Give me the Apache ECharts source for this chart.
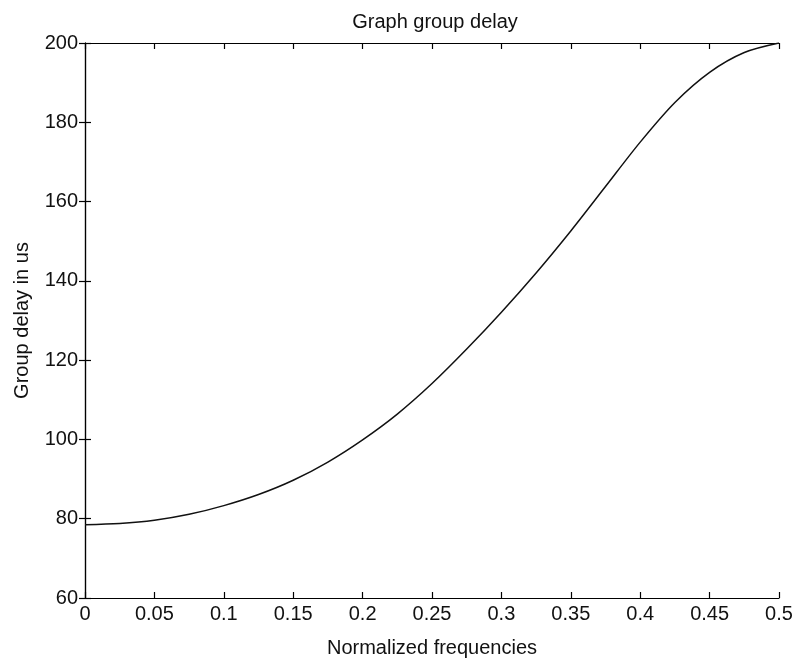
<!DOCTYPE html>
<html>
<head>
<meta charset="utf-8">
<title>Graph group delay</title>
<script src="https://cdn.jsdelivr.net/npm/echarts@6/dist/echarts.min.js"></script>
<style>
  html, body { margin: 0; padding: 0; background: #fff; }
  #chart { width: 796px; height: 663px; }
</style>
</head>
<body>
<div id="chart"></div>
<script>
// Normalized frequency samples and the group delay (us) at each of them
const freqs = [0, 0.025, 0.05, 0.075, 0.1, 0.125, 0.15, 0.175, 0.2, 0.225, 0.25,
               0.275, 0.3, 0.325, 0.35, 0.375, 0.4, 0.425, 0.45, 0.475, 0.5];
const delays = [78.5, 78.8, 79.6, 81.1, 83.3, 86.1, 89.7, 94.3, 99.9, 106.4, 114.1,
                122.8, 132.1, 142.0, 152.6, 163.8, 175.0, 185.0, 192.6, 197.6, 200];

const xTicks = { min: 0, max: 0.5, step: 0.05 };
const yTicks = { min: 60, max: 200, step: 20 };

const FONT = "'Liberation Sans', Arial, sans-serif";

const chart = echarts.init(document.getElementById('chart'), null, { renderer: 'canvas' });

const fmtX = v => String(Math.round(v * 100) / 100);

const baseAxisLine = { show: true, lineStyle: { color: '#000', width: 1.2 } };
const baseTick = { show: true, inside: true, length: 6, lineStyle: { color: '#000', width: 1.2 } };

chart.setOption({
  animation: false,
  backgroundColor: '#fff',
  title: {
    text: 'Graph group delay',
    left: 430, top: 7, textAlign: 'center',
    textStyle: { fontFamily: FONT, fontSize: 20, fontWeight: 'normal', color: '#111' }
  },
  grid: { left: 85, right: 17, top: 43, bottom: 61, containLabel: false },
  xAxis: [
    {
      type: 'value', position: 'bottom',
      min: xTicks.min, max: xTicks.max, interval: xTicks.step,
      name: 'Normalized frequencies', nameLocation: 'middle', nameGap: 40,
      nameTextStyle: { fontFamily: FONT, fontSize: 20, color: '#111' },
      axisLine: baseAxisLine, axisTick: baseTick,
      axisLabel: { fontFamily: FONT, fontSize: 20, color: '#111', margin: 6, formatter: fmtX },
      splitLine: { show: false }
    },
    {
      type: 'value', position: 'top',
      min: xTicks.min, max: xTicks.max, interval: xTicks.step,
      axisLine: baseAxisLine, axisTick: baseTick,
      axisLabel: { show: false }, splitLine: { show: false }
    }
  ],
  yAxis: [
    {
      type: 'value', position: 'left',
      min: yTicks.min, max: yTicks.max, interval: yTicks.step,
      name: 'Group delay in us', nameLocation: 'middle', nameGap: 53, nameRotate: 90,
      nameTextStyle: { fontFamily: FONT, fontSize: 20, color: '#111' },
      axisLine: baseAxisLine, axisTick: baseTick,
      axisLabel: { fontFamily: FONT, fontSize: 20, color: '#111', margin: 7 },
      splitLine: { show: false }
    },
    {
      type: 'value', position: 'right',
      min: yTicks.min, max: yTicks.max, interval: yTicks.step,
      axisLine: baseAxisLine, axisTick: baseTick,
      axisLabel: { show: false }, splitLine: { show: false }
    }
  ],
  series: [{
    type: 'line',
    data: freqs.map((f, i) => [f, delays[i]]),
    smooth: 0.3,
    showSymbol: false,
    lineStyle: { color: '#111', width: 1.5 }
  }]
});
</script>
</body>
</html>
